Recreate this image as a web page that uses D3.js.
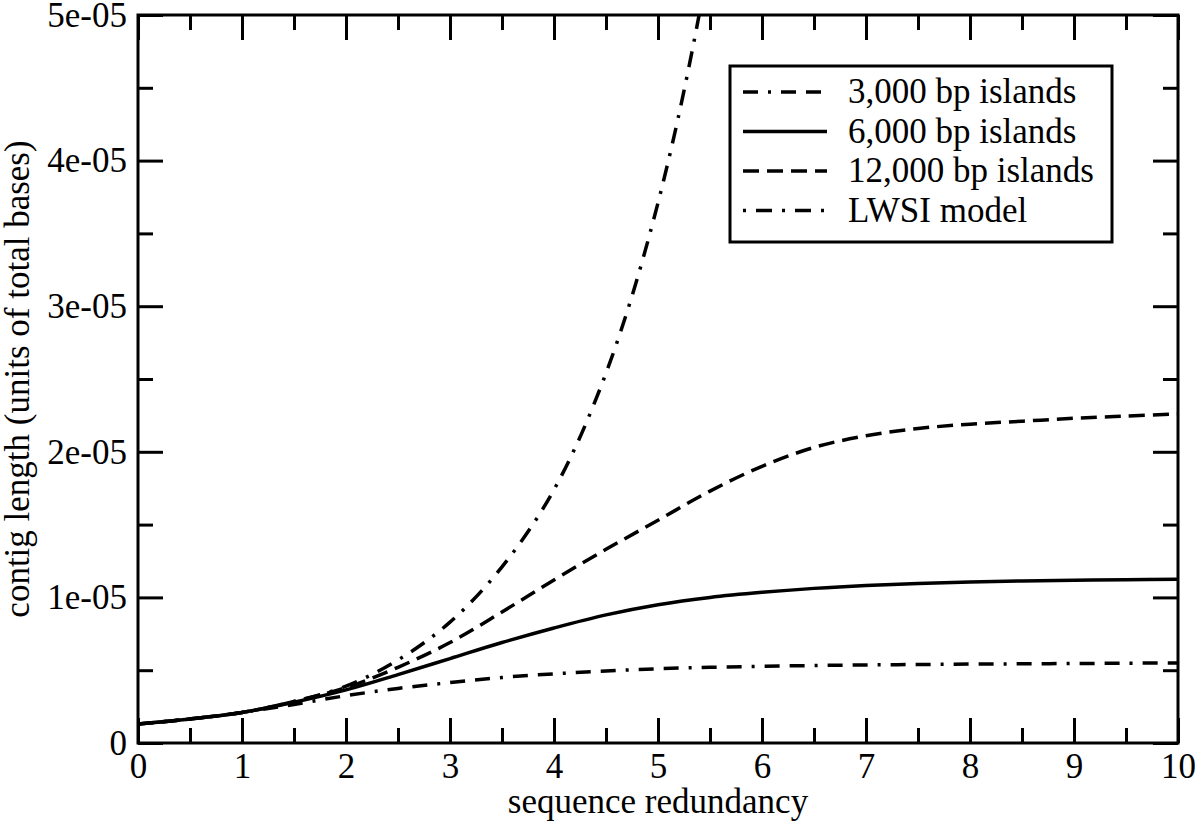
<!DOCTYPE html>
<html>
<head>
<meta charset="utf-8">
<script src="https://cdn.jsdelivr.net/npm/d3@7/dist/d3.min.js"></script>
<style>
  html, body { margin: 0; padding: 0; background: #fff; }
  svg { display: block; }
  text { font-family: "Liberation Serif", "Times New Roman", serif; fill: #000; }
</style>
</head>
<body>
<svg id="chart" width="1200" height="825"></svg>
<script>
// ---- data ----
const seriesNames = ["3,000 bp islands", "6,000 bp islands", "12,000 bp islands", "LWSI model"];

const xIslands = [0, 0.5, 1, 1.5, 2, 2.5, 3, 3.5, 4, 4.5, 5, 5.5, 6, 6.5, 7, 7.5, 8, 8.5, 9, 9.5, 10];
const y3000  = [0.13e-5, 0.165e-5, 0.21e-5, 0.265e-5, 0.325e-5, 0.375e-5, 0.415e-5, 0.45e-5, 0.475e-5, 0.495e-5, 0.51e-5, 0.52e-5, 0.527e-5, 0.532e-5, 0.536e-5, 0.539e-5, 0.542e-5, 0.544e-5, 0.546e-5, 0.548e-5, 0.55e-5];
const y6000  = [0.13e-5, 0.165e-5, 0.21e-5, 0.28e-5, 0.365e-5, 0.47e-5, 0.58e-5, 0.69e-5, 0.79e-5, 0.88e-5, 0.95e-5, 1.0e-5, 1.035e-5, 1.062e-5, 1.082e-5, 1.096e-5, 1.106e-5, 1.113e-5, 1.118e-5, 1.122e-5, 1.125e-5];
const y12000 = [0.13e-5, 0.165e-5, 0.21e-5, 0.285e-5, 0.38e-5, 0.52e-5, 0.69e-5, 0.9e-5, 1.12e-5, 1.33e-5, 1.53e-5, 1.73e-5, 1.9e-5, 2.03e-5, 2.11e-5, 2.16e-5, 2.19e-5, 2.21e-5, 2.23e-5, 2.245e-5, 2.26e-5];

const xLwsi = [0, 0.5, 1, 1.5, 2, 2.5, 3, 3.5, 4, 4.5, 5, 5.5, 6];
const yLwsi = [0.13e-5, 0.165e-5, 0.21e-5, 0.285e-5, 0.39e-5, 0.57e-5, 0.83e-5, 1.21e-5, 1.74e-5, 2.54e-5, 3.71e-5, 5.41e-5, 7.9e-5];

const xTickValues = [0, 1, 2, 3, 4, 5, 6, 7, 8, 9, 10];
const xTickLabels = ["0", "1", "2", "3", "4", "5", "6", "7", "8", "9", "10"];
const yTickValues = [0, 1e-5, 2e-5, 3e-5, 4e-5, 5e-5];
const yTickLabels = ["0", "1e-05", "2e-05", "3e-05", "4e-05", "5e-05"];

const xLabel = "sequence redundancy";
const yLabel = "contig length (units of total bases)";

// ---- layout ----
const pL = 138, pR = 1178, pT = 15, pB = 743;
const svg = d3.select("#chart");

const x = d3.scaleLinear().domain([0, 10]).range([pL, pR]);
const y = d3.scaleLinear().domain([0, 5e-5]).range([pB, pT]);

const FONT = 35;
const MAJOR = 25, MINOR = 15;
const xMinor = d3.range(0.5, 10, 1);
const yMinor = d3.range(0.5e-5, 5e-5, 1e-5);

// clip
svg.append("defs").append("clipPath").attr("id", "plotclip")
  .append("rect").attr("x", pL).attr("y", pT).attr("width", pR - pL).attr("height", pB - pT);

function styleAxis(g) {
  g.selectAll("path.domain").remove();
  g.selectAll("line").attr("stroke", "#000").attr("stroke-width", 3);
  g.selectAll("text").style("font-size", FONT + "px").attr("fill", "#000")
    .style("font-family", '"Liberation Serif", "Times New Roman", serif');
}

// bottom
svg.append("g").attr("transform", `translate(0,${pB})`)
  .call(d3.axisBottom(x).tickValues(xTickValues).tickSize(-MAJOR).tickPadding(10)
        .tickFormat((d, i) => xTickLabels[i]))
  .call(styleAxis);
svg.append("g").attr("transform", `translate(0,${pB})`)
  .call(d3.axisBottom(x).tickValues(xMinor).tickSize(-MINOR).tickFormat(""))
  .call(styleAxis);
// top
svg.append("g").attr("transform", `translate(0,${pT})`)
  .call(d3.axisTop(x).tickValues(xTickValues).tickSize(-MAJOR).tickFormat(""))
  .call(styleAxis);
svg.append("g").attr("transform", `translate(0,${pT})`)
  .call(d3.axisTop(x).tickValues(xMinor).tickSize(-MINOR).tickFormat(""))
  .call(styleAxis);
// left
svg.append("g").attr("transform", `translate(${pL},0)`)
  .call(d3.axisLeft(y).tickValues(yTickValues).tickSize(-MAJOR).tickPadding(11)
        .tickFormat((d, i) => yTickLabels[i]))
  .call(styleAxis);
svg.append("g").attr("transform", `translate(${pL},0)`)
  .call(d3.axisLeft(y).tickValues(yMinor).tickSize(-MINOR).tickFormat(""))
  .call(styleAxis);
// right
svg.append("g").attr("transform", `translate(${pR},0)`)
  .call(d3.axisRight(y).tickValues(yTickValues).tickSize(-MAJOR).tickFormat(""))
  .call(styleAxis);
svg.append("g").attr("transform", `translate(${pR},0)`)
  .call(d3.axisRight(y).tickValues(yMinor).tickSize(-MINOR).tickFormat(""))
  .call(styleAxis);

// frame
svg.append("rect").attr("x", pL).attr("y", pT).attr("width", pR - pL).attr("height", pB - pT)
  .attr("fill", "none").attr("stroke", "#000").attr("stroke-width", 3);

// lines
const dashes = ["15,10,15,10,3,10", null, "16,8", "3,10,16,10"];
const line = d3.line().x(d => x(d[0])).y(d => y(d[1])).curve(d3.curveCatmullRom.alpha(0.5));
const seriesData = [
  d3.zip(xIslands, y3000),
  d3.zip(xIslands, y6000),
  d3.zip(xIslands, y12000),
  d3.zip(xLwsi, yLwsi)
];
const plot = svg.append("g").attr("clip-path", "url(#plotclip)");
seriesData.forEach((d, i) => {
  plot.append("path").datum(d).attr("d", line)
    .attr("fill", "none").attr("stroke", "#000").attr("stroke-width", 3.5)
    .attr("stroke-dasharray", dashes[i]);
});

// axis labels
svg.append("text").attr("x", (pL + pR) / 2).attr("y", 813)
  .attr("text-anchor", "middle").style("font-size", FONT + "px").text(xLabel);
svg.append("text").attr("transform", `translate(29,${(pT + pB) / 2}) rotate(-90)`)
  .attr("text-anchor", "middle").style("font-size", FONT + "px").text(yLabel);

// legend
const lg = svg.append("g");
lg.append("rect").attr("x", 730).attr("y", 66).attr("width", 382).attr("height", 176)
  .attr("fill", "#fff").attr("stroke", "#000").attr("stroke-width", 3);
const legendDashOffset = [25, 0, 0, 0];
seriesNames.forEach((name, i) => {
  const by = 103 + i * 39.5;
  lg.append("line").attr("x1", 743).attr("x2", 827).attr("y1", by - 11).attr("y2", by - 11)
    .attr("stroke", "#000").attr("stroke-width", 3.5)
    .attr("stroke-dasharray", dashes[i]).attr("stroke-dashoffset", legendDashOffset[i]);
  lg.append("text").attr("x", 848).attr("y", by).style("font-size", FONT + "px").text(name);
});
</script>
</body>
</html>
